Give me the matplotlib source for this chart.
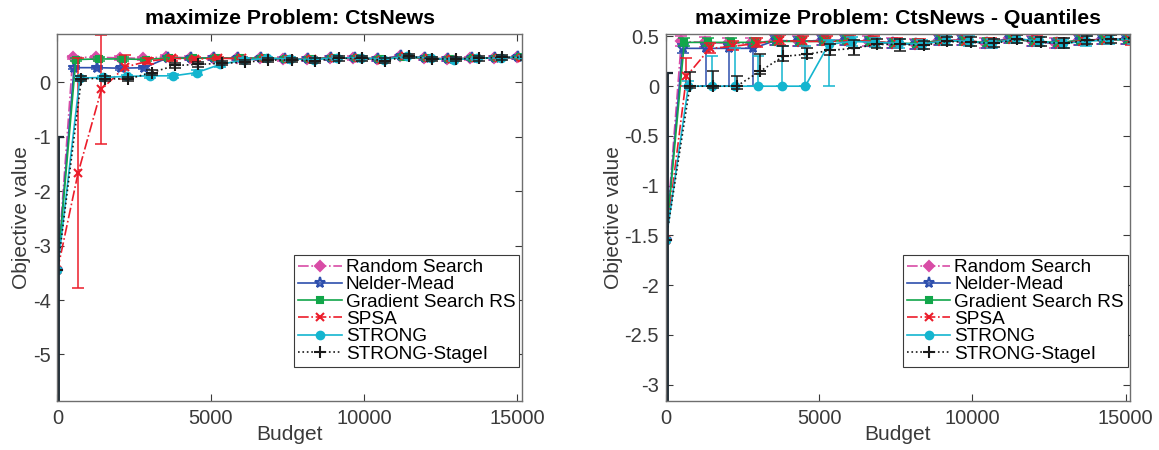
import numpy as np
import matplotlib
matplotlib.use("Agg")
import matplotlib.pyplot as plt
from matplotlib.lines import Line2D
from matplotlib.ticker import FuncFormatter

plt.rcParams['font.family'] = ['Liberation Sans', 'DejaVu Sans']
plt.rcParams['axes.unicode_minus'] = False

# budget checkpoints (initial point at budget 0 is handled separately)
budget = [500, 1263, 2026, 2789, 3552, 4315, 5078, 5841, 6604, 7367,
          8130, 8893, 9656, 10419, 11182, 11945, 12708, 13471, 14234, 15000]

solvers = ["Random Search", "Nelder-Mead", "Gradient Search RS",
           "SPSA", "STRONG", "STRONG-StageI"]

# ---- mean objective value (left) ----
init_mean = -3.45
init_mean_bar = (-8.0, -1.0)

rs_mean = [0.46, 0.46, 0.45, 0.44, 0.47, 0.45, 0.45, 0.44, 0.44, 0.43,
           0.43, 0.45, 0.45, 0.43, 0.48, 0.44, 0.43, 0.44, 0.45, 0.46]
nm_mean = [0.27, 0.27, 0.26, 0.27, 0.45, 0.44, 0.45, 0.44, 0.44, 0.43,
           0.43, 0.45, 0.45, 0.43, 0.48, 0.44, 0.43, 0.44, 0.45, 0.46]
gs_mean = [0.42, 0.43, 0.43, 0.42, 0.45, 0.44, 0.45, 0.44, 0.45, 0.43,
           0.43, 0.45, 0.45, 0.43, 0.47, 0.44, 0.43, 0.44, 0.45, 0.46]
spsa_mean = [-1.67, -0.13, 0.28, 0.39, 0.44, 0.43, 0.44, 0.44, 0.44, 0.43,
             0.43, 0.45, 0.45, 0.42, 0.48, 0.44, 0.43, 0.44, 0.45, 0.45]
strong_mean = [0.08, 0.09, 0.11, 0.12, 0.12, 0.18, 0.33, 0.41, 0.44, 0.43,
               0.42, 0.45, 0.45, 0.42, 0.48, 0.44, 0.42, 0.44, 0.45, 0.46]
stage1_mean = [0.07, 0.07, 0.06, 0.18, 0.31, 0.33, 0.35, 0.37, 0.41, 0.41,
               0.40, 0.44, 0.44, 0.40, 0.48, 0.43, 0.43, 0.44, 0.46, 0.46]

# half-width of the confidence intervals
rs_ci = [0.03] * 20
nm_ci = [0.03] * 20
gs_ci = [0.03] * 20
spsa_ci = [2.11, 1.0, 0.22, 0.05, 0.04, 0.03, 0.03, 0.03, 0.03, 0.03,
           0.03, 0.03, 0.03, 0.03, 0.03, 0.03, 0.03, 0.03, 0.03, 0.03]
strong_ci = [0.03, 0.03, 0.03, 0.04, 0.04, 0.04, 0.04, 0.03, 0.03, 0.03,
             0.03, 0.03, 0.03, 0.03, 0.03, 0.03, 0.03, 0.03, 0.03, 0.03]
stage1_ci = [0.04] * 20

# ---- quantiles (right) ----
init_q = -1.55
init_q_bar = (-4.0, 0.13)

rs_q = [0.45, 0.44, 0.43, 0.43, 0.46, 0.45, 0.46, 0.46, 0.45, 0.43,
        0.42, 0.46, 0.46, 0.43, 0.48, 0.45, 0.43, 0.46, 0.47, 0.47]
rs_lo = [0.40, 0.39, 0.38, 0.38, 0.41, 0.40, 0.41, 0.41, 0.40, 0.38,
         0.37, 0.41, 0.41, 0.38, 0.43, 0.40, 0.38, 0.41, 0.42, 0.42]
rs_hi = [0.50, 0.49, 0.48, 0.48, 0.51, 0.50, 0.51, 0.51, 0.50, 0.48,
         0.47, 0.51, 0.51, 0.48, 0.52, 0.50, 0.48, 0.51, 0.52, 0.52]

nm_q = [0.38, 0.38, 0.38, 0.38, 0.46, 0.45, 0.46, 0.46, 0.45, 0.43,
        0.42, 0.46, 0.46, 0.43, 0.48, 0.45, 0.43, 0.46, 0.47, 0.47]
nm_lo = [0.33, 0.0, 0.0, 0.0, 0.41, 0.40, 0.41, 0.41, 0.40, 0.38,
         0.37, 0.41, 0.41, 0.38, 0.43, 0.40, 0.38, 0.41, 0.42, 0.42]
nm_hi = [0.42, 0.42, 0.42, 0.42, 0.50, 0.49, 0.50, 0.50, 0.49, 0.47,
         0.46, 0.50, 0.50, 0.47, 0.52, 0.49, 0.47, 0.50, 0.51, 0.51]

gs_q = [0.44, 0.44, 0.44, 0.44, 0.45, 0.45, 0.45, 0.46, 0.45, 0.43,
        0.43, 0.46, 0.45, 0.44, 0.47, 0.45, 0.44, 0.46, 0.46, 0.47]
gs_lo = [0.40, 0.40, 0.40, 0.40, 0.41, 0.41, 0.41, 0.42, 0.41, 0.39,
         0.39, 0.42, 0.41, 0.40, 0.43, 0.41, 0.40, 0.42, 0.42, 0.43]
gs_hi = [0.48, 0.48, 0.48, 0.48, 0.49, 0.49, 0.49, 0.50, 0.49, 0.47,
         0.47, 0.50, 0.49, 0.48, 0.51, 0.49, 0.48, 0.50, 0.50, 0.51]

spsa_q = [0.10, 0.38, 0.40, 0.43, 0.46, 0.45, 0.45, 0.46, 0.45, 0.43,
          0.42, 0.46, 0.46, 0.43, 0.48, 0.45, 0.43, 0.46, 0.47, 0.46]
spsa_lo = [0.0, 0.33, 0.36, 0.39, 0.41, 0.40, 0.41, 0.41, 0.40, 0.38,
           0.37, 0.41, 0.41, 0.38, 0.43, 0.40, 0.38, 0.41, 0.42, 0.41]
spsa_hi = [0.28, 0.43, 0.45, 0.48, 0.51, 0.50, 0.50, 0.51, 0.50, 0.48,
           0.47, 0.51, 0.51, 0.48, 0.52, 0.50, 0.48, 0.51, 0.52, 0.51]

strong_q = [0.0, 0.0, 0.0, 0.0, 0.0, 0.0, 0.42, 0.45, 0.44, 0.43,
            0.42, 0.46, 0.45, 0.43, 0.48, 0.45, 0.43, 0.45, 0.47, 0.47]
strong_lo = [0.0, 0.0, 0.0, 0.0, 0.0, 0.0, 0.0, 0.40, 0.39, 0.38,
             0.37, 0.41, 0.40, 0.38, 0.43, 0.40, 0.38, 0.40, 0.42, 0.42]
strong_hi = [0.05, 0.30, 0.38, 0.30, 0.40, 0.40, 0.46, 0.49, 0.48, 0.47,
             0.46, 0.50, 0.50, 0.47, 0.52, 0.49, 0.47, 0.50, 0.51, 0.51]

stage1_q = [0.0, 0.0, 0.0, 0.15, 0.30, 0.32, 0.36, 0.38, 0.42, 0.42,
            0.41, 0.45, 0.44, 0.43, 0.47, 0.44, 0.43, 0.46, 0.47, 0.48]
stage1_lo = [-0.02, -0.02, -0.03, 0.12, 0.25, 0.28, 0.31, 0.31, 0.38, 0.35,
             0.37, 0.41, 0.40, 0.39, 0.43, 0.40, 0.38, 0.42, 0.43, 0.44]
stage1_hi = [0.14, 0.15, 0.10, 0.32, 0.40, 0.38, 0.42, 0.46, 0.47, 0.47,
             0.45, 0.49, 0.49, 0.47, 0.51, 0.49, 0.48, 0.50, 0.51, 0.52]

# line style, marker, colour, marker size, filled, x shift
styles = [
    ('-.', 'D', '#d84ca6', 5.5, True, 0),
    ('-', '*', '#2e4fad', 8, False, 40),
    ('-', 's', '#12a64a', 5, True, 100),
    ('-.', 'x', '#ec1c2a', 5.5, False, 170),
    ('-', 'o', '#14b5cf', 5.5, True, 230),
    (':', '+', '#1a1a1a', 9, False, 280),
]

AX = '#3a3a3a'


def draw_series(ax, init, vals, lo, hi, st):
    ls, mk, col, ms, filled, shift = st
    x = [b + shift for b in budget]
    y = np.array(vals)
    ax.plot([0] + x, [init] + list(vals), linestyle=ls, marker=mk,
            color=col, markersize=ms,
            markerfacecolor=col if filled else 'none',
            markeredgecolor=col, markeredgewidth=1.5, linewidth=1.2)
    yerr = [y - np.array(lo), np.array(hi) - y]
    ax.errorbar(x, y, yerr=yerr, fmt='none', ecolor=col,
                elinewidth=1.1, capsize=4, capthick=1.1)


def style_axes(ax, title, ylim, yticks):
    ax.set_xlim(0, 15140)
    ax.set_ylim(*ylim)
    ax.set_xticks([0, 5000, 10000, 15000])
    ax.set_yticks(yticks)
    ax.yaxis.set_major_formatter(FuncFormatter(lambda v, p: '%g' % v))
    ax.tick_params(direction='in', top=True, right=True, length=5,
                   labelsize=14.5, colors=AX, width=0.8)
    ax.tick_params(axis='x', pad=6)
    ax.tick_params(axis='y', pad=5)
    for sp in ax.spines.values():
        sp.set_color('#6e6e6e')
        sp.set_linewidth(1.0)
    ax.set_title(title, fontsize=15.3, fontweight='bold', pad=7)
    ax.set_xlabel('Budget', fontsize=15, color=AX, labelpad=-2)
    ax.set_ylabel('Objective value', fontsize=15, color=AX, labelpad=1)
    handles = [Line2D([], [], linestyle=st[0], marker=st[1], color=st[2],
                      markersize=st[3],
                      markerfacecolor=st[2] if st[4] else 'none',
                      markeredgewidth=1.5, linewidth=1.2) for st in styles]
    leg = ax.legend(handles, solvers, loc='lower right',
                    bbox_to_anchor=(0.995, 0.093), borderaxespad=0,
                    fontsize=13.7, handlelength=2.3, handletextpad=0.2,
                    labelspacing=0.0, borderpad=0.2, fancybox=False,
                    framealpha=1)
    leg.get_frame().set_edgecolor('#3a3a3a')
    leg.get_frame().set_linewidth(0.8)


fig = plt.figure(figsize=(11.59, 4.5), dpi=100)
ax1 = fig.add_axes([0.0496, 0.1096, 0.4004, 0.815])
ax2 = fig.add_axes([0.5746, 0.1096, 0.4004, 0.815])

mean_data = [(rs_mean, rs_ci), (nm_mean, nm_ci), (gs_mean, gs_ci),
             (spsa_mean, spsa_ci), (strong_mean, strong_ci),
             (stage1_mean, stage1_ci)]
for (m, ci), st in zip(mean_data, styles):
    lo = [a - b for a, b in zip(m, ci)]
    hi = [a + b for a, b in zip(m, ci)]
    draw_series(ax1, init_mean, m, lo, hi, st)

q_data = [(rs_q, rs_lo, rs_hi), (nm_q, nm_lo, nm_hi), (gs_q, gs_lo, gs_hi),
          (spsa_q, spsa_lo, spsa_hi), (strong_q, strong_lo, strong_hi),
          (stage1_q, stage1_lo, stage1_hi)]
for (m, lo, hi), st in zip(q_data, styles):
    draw_series(ax2, init_q, m, lo, hi, st)

# spread of the starting solution, shared by all solvers
for ax, init, bar in [(ax1, init_mean, init_mean_bar),
                      (ax2, init_q, init_q_bar)]:
    ax.errorbar([0], [init], yerr=[[init - bar[0]], [bar[1] - init]],
                fmt='none', ecolor='#1b2730', elinewidth=3.5,
                capsize=5, capthick=1.6)

style_axes(ax1, 'maximize Problem: CtsNews', (-5.85, 0.89),
           [-5, -4, -3, -2, -1, 0])
style_axes(ax2, 'maximize Problem: CtsNews - Quantiles', (-3.16, 0.525),
           [-3, -2.5, -2, -1.5, -1, -0.5, 0, 0.5])

fig.savefig('out.png', dpi=100)
